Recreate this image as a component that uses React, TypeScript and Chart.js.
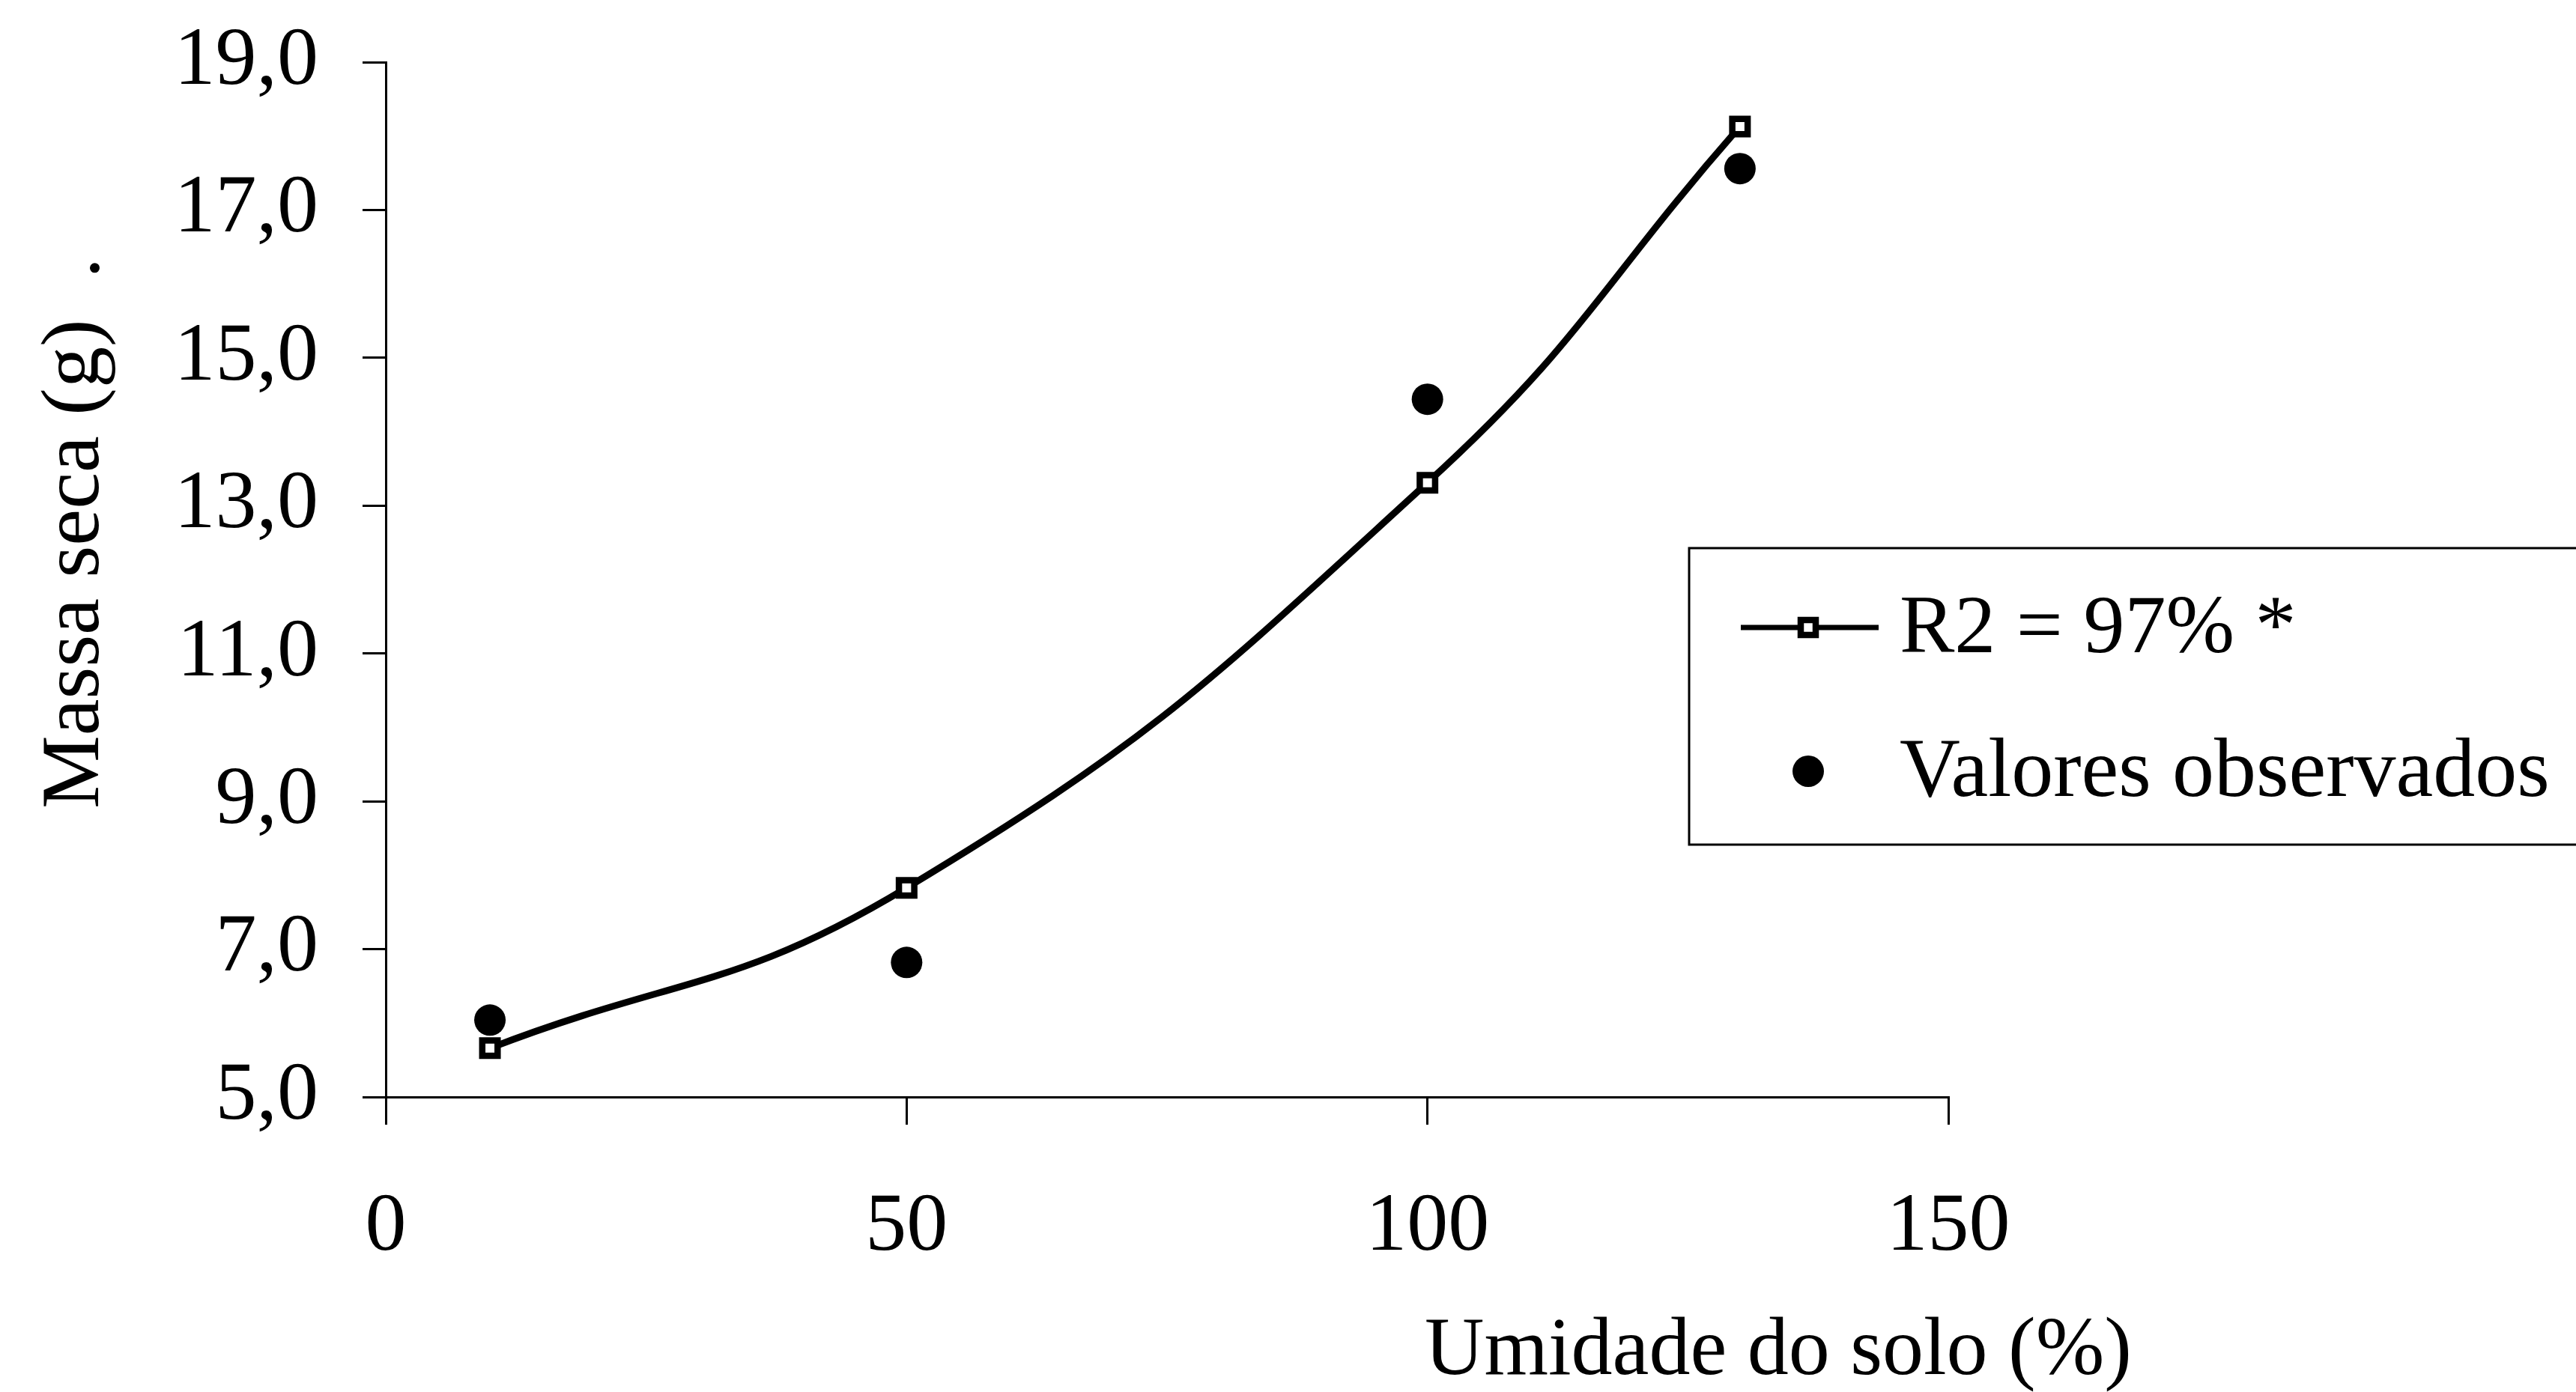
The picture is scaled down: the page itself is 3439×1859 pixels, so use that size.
import React, { useEffect, useRef } from 'react';
import { Chart, registerables } from 'chart.js';

Chart.register(...registerables);

// ---- data ----
const xValues = [10, 50, 100, 130];
const fittedValues = [5.66, 7.83, 13.31, 18.13];
const observedValues = [6.04, 6.82, 14.44, 17.56];
const xTickValues = [0, 50, 100, 150];
const yTickValues = [5, 7, 9, 11, 13, 15, 17, 19];
const seriesLabels = ['R2 = 97% *', 'Valores observados'];
const xTitle = 'Umidade do solo (%)';
const yTitle = 'Massa seca (g)  .';

const FONT_FAMILY = '"Liberation Serif", "Times New Roman", serif';
const FONT_SIZE = 110;

const overlayPlugin = {
  id: 'overlay',
  afterDraw(chart: any) {
    const ctx = chart.ctx as CanvasRenderingContext2D;
    ctx.save();
    ctx.fillStyle = '#000';
    ctx.strokeStyle = '#000';
    ctx.font = `${FONT_SIZE}px ${FONT_FAMILY}`;
    ctx.textBaseline = 'middle';

    // x axis title
    ctx.textAlign = 'right';
    ctx.fillText(xTitle, 2846, 1806);

    // y axis title
    ctx.save();
    ctx.translate(102, 712);
    ctx.rotate(-Math.PI / 2);
    ctx.textAlign = 'center';
    ctx.fillText(yTitle, 0, 0);
    ctx.restore();

    // legend box
    ctx.lineWidth = 3;
    ctx.strokeRect(2255, 732, 1300, 396);

    // entry 1: line + square marker
    const y1 = 838;
    ctx.lineWidth = 7;
    ctx.beginPath();
    ctx.moveTo(2324, y1);
    ctx.lineTo(2508, y1);
    ctx.stroke();
    const s = 20;
    ctx.fillStyle = '#fff';
    ctx.lineWidth = 8.5;
    ctx.fillRect(2414 - s / 2, y1 - s / 2, s, s);
    ctx.strokeRect(2414 - s / 2, y1 - s / 2, s, s);
    ctx.fillStyle = '#000';
    ctx.textAlign = 'left';
    ctx.fillText(seriesLabels[0], 2536, y1 + 4);

    // entry 2: circle marker
    const y2 = 1030;
    ctx.beginPath();
    ctx.arc(2414, y2, 21, 0, Math.PI * 2);
    ctx.fill();
    ctx.font = `${FONT_SIZE + 2}px ${FONT_FAMILY}`;
    ctx.fillText(seriesLabels[1], 2536, y2 + 4);

    ctx.restore();
  },
};

export default function App() {
  const canvasRef = useRef<HTMLCanvasElement | null>(null);

  useEffect(() => {
    if (!canvasRef.current) return;
    const chart = new Chart(canvasRef.current, {
      type: 'line',
      data: {
        datasets: [
          {
            label: seriesLabels[0],
            data: xValues.map((x, i) => ({ x, y: fittedValues[i] })),
            borderColor: '#000',
            borderWidth: 9,
            tension: 0.45,
            pointStyle: 'rect',
            pointRadius: 14.5,
            pointBorderWidth: 8.5,
            pointBackgroundColor: '#fff',
            pointBorderColor: '#000',
            fill: false,
            order: 2,
          },
          {
            label: seriesLabels[1],
            data: xValues.map((x, i) => ({ x, y: observedValues[i] })),
            showLine: false,
            pointStyle: 'circle',
            pointRadius: 21,
            pointBorderWidth: 0,
            pointBackgroundColor: '#000',
            pointBorderColor: '#000',
            order: 1,
          },
        ],
      },
      options: {
        responsive: false,
        maintainAspectRatio: false,
        devicePixelRatio: 1,
        animation: false,
        layout: { padding: { top: 83, right: 838, bottom: 0, left: 0 } },
        plugins: {
          legend: { display: false },
          tooltip: { enabled: false },
          title: { display: false },
        },
        scales: {
          x: {
            type: 'linear',
            min: 0,
            max: 150,
            afterBuildTicks: (scale: any) => {
              scale.ticks = xTickValues.map((v) => ({ value: v }));
            },
            afterFit: (scale: any) => {
              scale.height = 1859 - 1465;
              scale.paddingLeft = 0;
              scale.paddingRight = 0;
            },
            grid: {
              drawOnChartArea: false,
              drawTicks: true,
              tickLength: 37,
              color: '#000',
              lineWidth: 3,
            },
            border: { display: true, color: '#000', width: 3 },
            ticks: {
              color: '#000',
              padding: 72,
              font: { family: FONT_FAMILY, size: FONT_SIZE },
              maxRotation: 0,
              callback: (v: any) => String(v),
            },
          },
          y: {
            type: 'linear',
            min: 5,
            max: 19,
            afterBuildTicks: (scale: any) => {
              scale.ticks = yTickValues.map((v) => ({ value: v }));
            },
            afterFit: (scale: any) => {
              scale.width = 515;
              scale.paddingTop = 0;
              scale.paddingBottom = 0;
            },
            grid: {
              drawOnChartArea: false,
              drawTicks: true,
              tickLength: 31,
              color: '#000',
              lineWidth: 3,
            },
            border: { display: true, color: '#000', width: 3 },
            ticks: {
              color: '#000',
              padding: 59,
              font: { family: FONT_FAMILY, size: FONT_SIZE },
              callback: (v: any) => Number(v).toFixed(1).replace('.', ','),
            },
          },
        },
      },
      plugins: [overlayPlugin],
    } as any);
    return () => chart.destroy();
  }, []);

  return (
    <canvas
      ref={canvasRef}
      width={3439}
      height={1859}
      style={{ position: 'absolute', left: 0, top: 0, display: 'block', background: '#fff' }}
    />
  );
}
